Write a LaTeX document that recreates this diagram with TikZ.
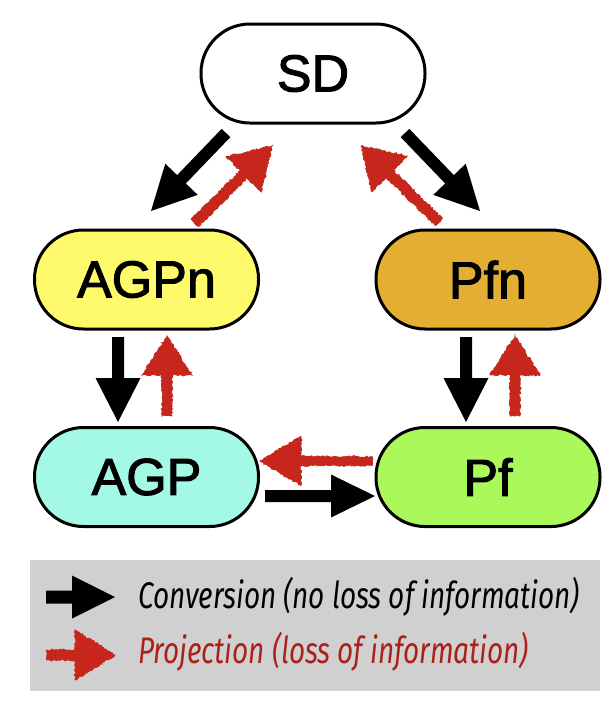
\documentclass[tikz,border=0pt]{standalone}
\usepackage{fontspec}
\setmainfont{Liberation Sans}
\newfontfamily\nodefont[FakeBold=2]{Liberation Sans}
\newfontfamily\legendfont[FakeStretch=0.755]{Fira Sans}
\usetikzlibrary{calc,decorations.pathmorphing}
\definecolor{projred}{RGB}{198,38,28}
\definecolor{projtext}{RGB}{172,32,26}
\definecolor{legendgray}{RGB}{208,208,208}
\definecolor{agpncol}{RGB}{255,250,108}
\definecolor{pfncol}{RGB}{227,174,50}
\definecolor{agpcol}{RGB}{164,248,230}
\definecolor{pfcol}{RGB}{170,248,90}
% #1 style, #2 from, #3 to, #4 half shaft, #5 head length, #6 half head width
\newcommand\fatarrow[6]{%
  \coordinate (fa-b) at ($(#3)!#5!(#2)$);
  \path[#1] ($(#2)!#4!90:(#3)$) -- ($(fa-b)!#4!90:(#3)$) -- ($(fa-b)!#6!90:(#3)$)
    -- (#3) -- ($(fa-b)!#6!-90:(#3)$) -- ($(fa-b)!#4!-90:(#3)$) -- ($(#2)!#4!-90:(#3)$) -- cycle;
}
\tikzset{
  state/.style={draw=black, line width=3pt, rectangle, rounded corners=49pt,
    minimum width=224pt, minimum height=99pt, inner sep=0pt,
    font=\nodefont\fontsize{52}{60}\selectfont},
  conv/.style={fill=black},
  proj/.style={fill=projred, draw=projred, line width=0.8pt, decorate,
    decoration={random steps, segment length=1.6pt, amplitude=1pt}},
  legtext/.style={anchor=base west, inner sep=0pt,
    font=\legendfont\itshape\fontsize{37}{40}\selectfont},
}
\begin{document}
\begin{tikzpicture}[x=1pt,y=-1pt]
\useasboundingbox (0,0) rectangle (615,705);
\fill[white] (0,0) rectangle (615,705);

\node[state, fill=white]   (SD)   at (313,73.5) {SD};
\node[state, fill=agpncol] (AGPn) at (146.5,279.5) {AGPn};
\node[state, fill=pfncol]  (Pfn)  at (488,279.5) {Pfn};
\node[state, fill=agpcol]  (AGP)  at (146.5,477) {AGP};
\node[state, fill=pfcol]   (Pf)   at (488,477) {Pf};

% arrow end points
\coordinate (sdagpn-s) at (226,133);  \coordinate (sdagpn-e) at (151,211);
\coordinate (agpnsd-s) at (195,223);  \coordinate (agpnsd-e) at (272,146);
\coordinate (sdpfn-s) at (405,133);   \coordinate (sdpfn-e) at (480,211);
\coordinate (pfnsd-s) at (439,222);   \coordinate (pfnsd-e) at (361,146);
\coordinate (agpnagp-s) at (118,337); \coordinate (agpnagp-e) at (118,422);
\coordinate (agpagpn-s) at (167,416); \coordinate (agpagpn-e) at (167,336);
\coordinate (pfnpf-s) at (466,337);   \coordinate (pfnpf-e) at (466,422);
\coordinate (pfpfn-s) at (515,416);   \coordinate (pfpfn-e) at (515,336);
\coordinate (pfagp-s) at (372,461);   \coordinate (pfagp-e) at (260,461);
\coordinate (agppf-s) at (265,496);   \coordinate (agppf-e) at (375,496);

\fatarrow{conv}{sdagpn-s}{sdagpn-e}{6pt}{44pt}{22.5pt}
\fatarrow{proj}{agpnsd-s}{agpnsd-e}{5pt}{40pt}{25pt}
\fatarrow{conv}{sdpfn-s}{sdpfn-e}{6pt}{44pt}{22.5pt}
\fatarrow{proj}{pfnsd-s}{pfnsd-e}{5pt}{40pt}{25pt}
\fatarrow{conv}{agpnagp-s}{agpnagp-e}{6pt}{44pt}{22.5pt}
\fatarrow{proj}{agpagpn-s}{agpagpn-e}{5pt}{39pt}{25pt}
\fatarrow{conv}{pfnpf-s}{pfnpf-e}{6pt}{44pt}{22.5pt}
\fatarrow{proj}{pfpfn-s}{pfpfn-e}{5pt}{39pt}{25pt}
\fatarrow{proj}{pfagp-s}{pfagp-e}{4.5pt}{41pt}{24.5pt}
\fatarrow{conv}{agppf-s}{agppf-e}{6pt}{44pt}{21.5pt}

% legend
\node[fill=legendgray, minimum width=570pt, minimum height=131pt, inner sep=0pt] (legend) at (315,625.5) {};
\coordinate (lconv-s) at (46,597);  \coordinate (lconv-e) at (115,597);
\coordinate (lproj-s) at (47,655);  \coordinate (lproj-e) at (115,655);
\fatarrow{conv}{lconv-s}{lconv-e}{6.5pt}{43pt}{21.5pt}
\fatarrow{proj}{lproj-s}{lproj-e}{5pt}{40pt}{25pt}
\node[legtext] (lconv) at (138,608) {Conversion (no loss of information)};
\node[legtext, text=projtext] (lproj) at (138,663) {Projection (loss of information)};
\end{tikzpicture}
\end{document}
